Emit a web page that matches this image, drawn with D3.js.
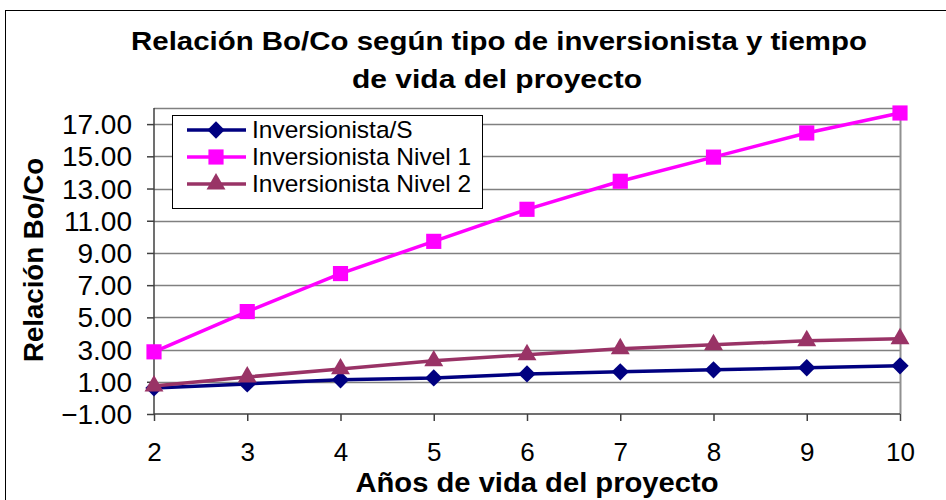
<!DOCTYPE html>
<html>
<head>
<meta charset="utf-8">
<script src="https://cdn.jsdelivr.net/npm/d3@7"></script>
<style>
  body { margin: 0; background: #fff; }
  svg { font-family: "Liberation Sans", Arial, sans-serif; }
</style>
</head>
<body>
<svg id="chart" width="946" height="500"></svg>
<script>
// data
const years = [2, 3, 4, 5, 6, 7, 8, 9, 10]
const invS = [0.62, 0.87, 1.12, 1.24, 1.49, 1.62, 1.74, 1.87, 1.99]
const invN1 = [2.86, 5.36, 7.72, 9.72, 11.71, 13.45, 14.95, 16.45, 17.69]
const invN2 = [0.74, 1.30, 1.80, 2.30, 2.68, 3.05, 3.30, 3.55, 3.67]
const yTicks = [-1, 1, 3, 5, 7, 9, 11, 13, 15, 17]
const seriesNames = ["Inversionista/S", "Inversionista Nivel 1", "Inversionista Nivel 2"]

const series = [
  {name: seriesNames[0], values: invS, color: "#000080", shape: d3.symbolSquare, size: 150, rot: 45},
  {name: seriesNames[1], values: invN1, color: "#FF00FF", shape: d3.symbolSquare, size: 230, rot: 0},
  {name: seriesNames[2], values: invN2, color: "#993366", shape: d3.symbolTriangle, size: 155, rot: 0}
]

const svg = d3.select('#chart')

// outer chart border
svg.append('rect').attr('x', 5.5).attr('y', 10.5).attr('width', 960).attr('height', 520)
  .attr('fill', '#fff').attr('stroke', '#000').attr('stroke-width', 1)

const pLeft = 154, pRight = 900, pTop = 108, pBottom = 414

const x = d3.scaleLinear().domain([2, 10]).range([pLeft, pRight])
const y = d3.scaleLinear().domain([-1, 18]).range([pBottom, pTop])

// title
svg.append('text').attr('x', 499).attr('y', 50).attr('text-anchor', 'middle')
  .attr('font-size', 26).attr('font-weight', 'bold')
  .attr('textLength', 736).attr('lengthAdjust', 'spacingAndGlyphs')
  .text('Relación Bo/Co según tipo de inversionista y tiempo')
svg.append('text').attr('x', 497).attr('y', 88).attr('text-anchor', 'middle')
  .attr('font-size', 26).attr('font-weight', 'bold')
  .attr('textLength', 290).attr('lengthAdjust', 'spacingAndGlyphs')
  .text('de vida del proyecto')

// gridlines
svg.append('g').selectAll('line').data(yTicks.slice(1)).enter().append('line')
  .attr('x1', pLeft).attr('x2', pRight)
  .attr('y1', d => Math.round(y(d)) + 0.5).attr('y2', d => Math.round(y(d)) + 0.5)
  .attr('stroke', '#808080').attr('stroke-width', 1.5)

// plot frame top / right
svg.append('line').attr('x1', pLeft).attr('x2', pRight).attr('y1', pTop + 0.5).attr('y2', pTop + 0.5)
  .attr('stroke', '#808080').attr('stroke-width', 1.5)
svg.append('line').attr('x1', pRight + 0.5).attr('x2', pRight + 0.5).attr('y1', pTop).attr('y2', pBottom)
  .attr('stroke', '#909090').attr('stroke-width', 2)

// y axis
const yAxis = d3.axisLeft(y).tickValues(yTicks).tickFormat(d3.format('.2f')).tickSize(7).tickPadding(15)
const gy = svg.append('g').attr('transform', `translate(${pLeft},0)`).call(yAxis)
gy.select('.domain').attr('stroke', '#404040').attr('stroke-width', 1.5).attr('d', `M0,${pTop}V${pBottom}`)
gy.selectAll('.tick line').attr('stroke', '#404040').attr('stroke-width', 1.5)
gy.selectAll('text').attr('font-size', 28).attr('fill', '#000').attr('dy', '0.34em')
  .attr('font-family', '"Liberation Sans", Arial, sans-serif')

// x axis
const xAxis = d3.axisBottom(x).tickValues(years).tickFormat(d3.format('d')).tickSize(7).tickPadding(22)
const gx = svg.append('g').attr('transform', `translate(0,${pBottom})`).call(xAxis)
gx.select('.domain').attr('stroke', '#404040').attr('stroke-width', 1.5).attr('d', `M${pLeft},0H${pRight}`)
gx.selectAll('.tick line').attr('stroke', '#404040').attr('stroke-width', 1.5)
gx.selectAll('text').attr('font-size', 26).attr('fill', '#000')
  .attr('font-family', '"Liberation Sans", Arial, sans-serif')

// axis titles
svg.append('text').attr('x', 537).attr('y', 492).attr('text-anchor', 'middle')
  .attr('font-size', 28).attr('font-weight', 'bold')
  .attr('textLength', 363).attr('lengthAdjust', 'spacingAndGlyphs')
  .text('Años de vida del proyecto')
svg.append('text').attr('transform', 'translate(43,260) rotate(-90)').attr('text-anchor', 'middle')
  .attr('font-size', 28).attr('font-weight', 'bold')
  .attr('textLength', 204).attr('lengthAdjust', 'spacingAndGlyphs')
  .text('Relación Bo/Co')

// lines + markers
const line = d3.line().x((d, i) => x(years[i])).y(d => y(d))
series.forEach(s => {
  svg.append('path').datum(s.values).attr('d', line)
    .attr('fill', 'none').attr('stroke', s.color).attr('stroke-width', 3.5)
  svg.append('g').selectAll('path').data(s.values).enter().append('path')
    .attr('transform', (d, i) => `translate(${x(years[i])},${y(d)}) rotate(${s.rot})`)
    .attr('d', d3.symbol().type(s.shape).size(s.size))
    .attr('fill', s.color)
})

// legend
const lg = svg.append('g')
lg.append('rect').attr('x', 172.5).attr('y', 115.5).attr('width', 310).attr('height', 93)
  .attr('fill', '#fff').attr('stroke', '#000').attr('stroke-width', 1)
series.forEach((s, i) => {
  const cy = 130 + i * 27
  lg.append('line').attr('x1', 187).attr('x2', 246).attr('y1', cy).attr('y2', cy)
    .attr('stroke', s.color).attr('stroke-width', 3.5)
  lg.append('path').attr('transform', `translate(216,${cy}) rotate(${s.rot})`)
    .attr('d', d3.symbol().type(s.shape).size(s.size))
    .attr('fill', s.color)
  lg.append('text').attr('x', 252).attr('y', cy + 8).attr('font-size', 24.5).text(s.name)
})
</script>
</body>
</html>
